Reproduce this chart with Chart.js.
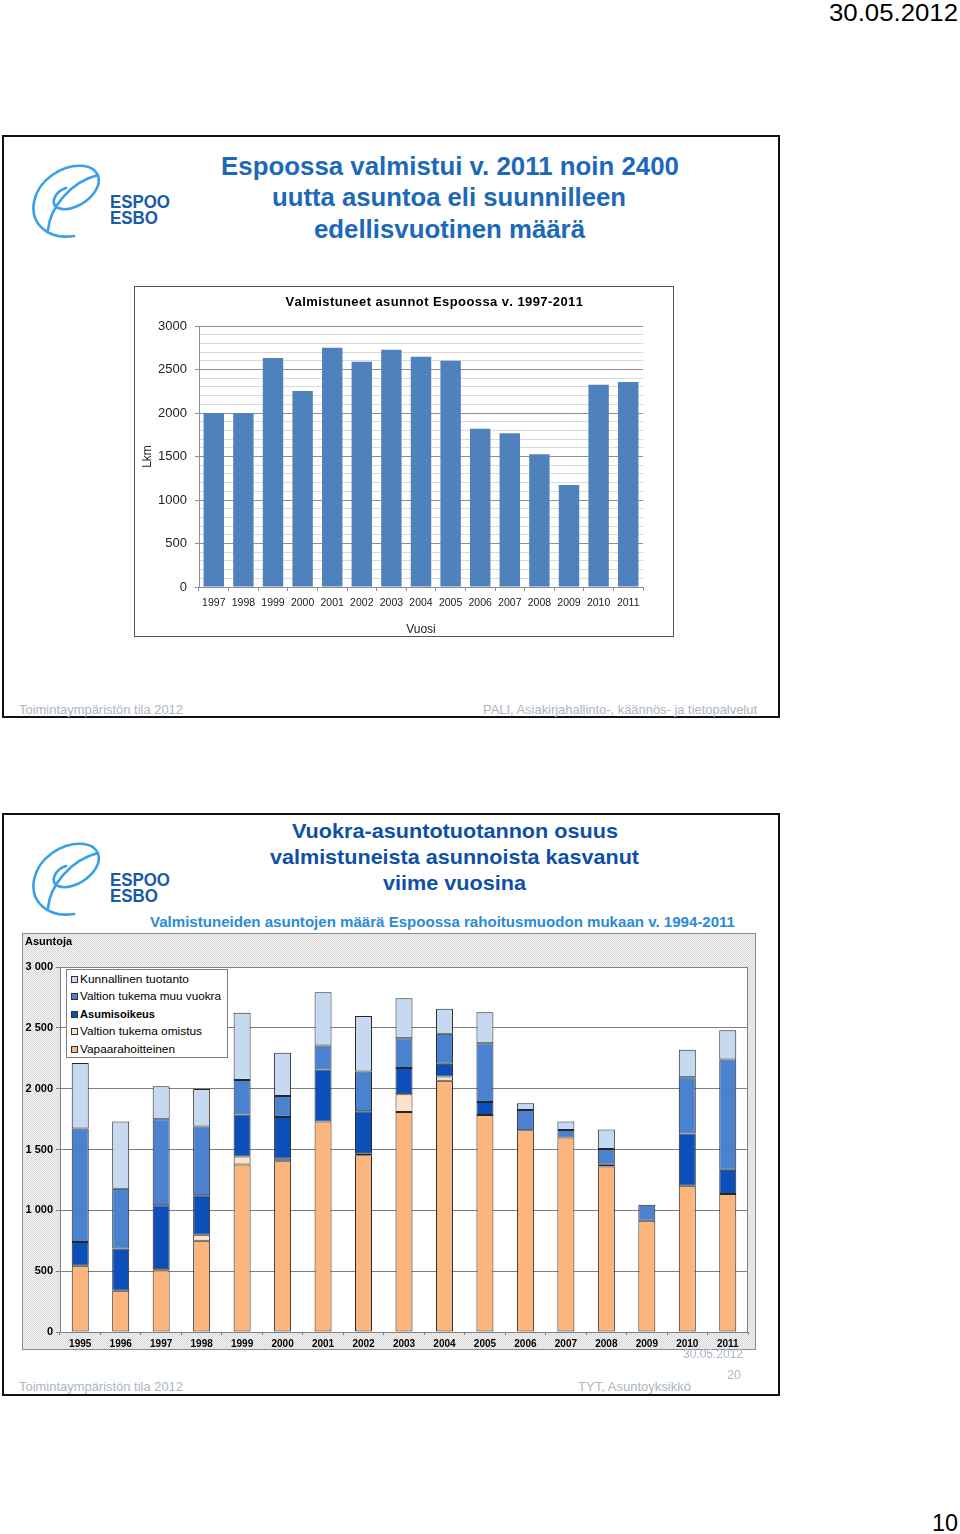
<!DOCTYPE html>
<html><head><meta charset="utf-8">
<script src="https://cdn.jsdelivr.net/npm/chart.js@4.4.1/dist/chart.umd.min.js"></script>
<style>
html,body{margin:0;padding:0;background:#fff;}
body{position:relative;width:960px;height:1534px;overflow:hidden;font-family:'Liberation Sans',Arial,sans-serif;}
.t{position:absolute;white-space:nowrap;line-height:1;transform-origin:0 0;}
.frame{position:absolute;box-sizing:border-box;border:2px solid #111;background:#fff;}
.box{position:absolute;box-sizing:border-box;}
.logo{position:absolute;}
</style></head><body>

<div class="frame" style="left:2px;top:135px;width:778px;height:583px;"></div>
<div class="frame" style="left:2px;top:813px;width:778px;height:583px;"></div>

<svg class="logo" style="left:28px;top:162px" width="74" height="78" viewBox="0 0 74 78">
  <g fill="none" stroke="#3a9fe6" stroke-width="2.6" stroke-linecap="round">
    <path d="M46 74 C20 78 2 62 6 40 C10 18 34 2 56 4 C71 6 75 19 66 31 C57 43 40 50 30 46 C22 42 26 30 38 26"/>
    <path d="M20 68 C22 46 42 20 70 13"/>
  </g>
</svg>
<svg class="logo" style="left:28px;top:840px" width="74" height="78" viewBox="0 0 74 78">
  <g fill="none" stroke="#3a9fe6" stroke-width="2.6" stroke-linecap="round">
    <path d="M46 74 C20 78 2 62 6 40 C10 18 34 2 56 4 C71 6 75 19 66 31 C57 43 40 50 30 46 C22 42 26 30 38 26"/>
    <path d="M20 68 C22 46 42 20 70 13"/>
  </g>
</svg>

<div class="box" style="left:134px;top:286px;width:540px;height:351px;border:1px solid #555;background:#fff;"></div>
<div class="box" style="left:135px;top:287px;width:538px;height:349px;"><canvas id="c1"></canvas></div>

<div class="box" style="left:22px;top:933px;width:734px;height:417px;border:1px solid #8a8a8a;background:repeating-conic-gradient(#d9d9d9 0% 25%, #f3f3f3 0% 50%) 0 0/2px 2px;"></div>
<div class="box" style="left:22px;top:933px;width:734px;height:417px;"><canvas id="c2"></canvas></div>

<div id="legend" class="box" style="left:66px;top:969px;width:162px;height:89px;border:1px solid #808080;background:#fff;"></div>

<script>
// ---------- DATA ----------
const title1 = 'Valmistuneet asunnot Espoossa v. 1997-2011';
const years1 = ['1997','1998','1999','2000','2001','2002','2003','2004','2005','2006','2007','2008','2009','2010','2011'];
const completed1 = [2000, 1997, 2632, 2253, 2751, 2590, 2728, 2647, 2601, 1820, 1766, 1525, 1172, 2325, 2356];
const yMajorTicks1 = [0, 500, 1000, 1500, 2000, 2500, 3000];

const years2 = ['1995','1996','1997','1998','1999','2000','2001','2002','2003','2004','2005','2006','2007','2008','2009','2010','2011'];
const vapaarahoitteinen = [544, 339, 508, 751, 1377, 1404, 1730, 1453, 1809, 2066, 1784, 1658, 1598, 1361, 915, 1202, 1134];
const valtionOmistus    = [0, 0, 8, 49, 65, 19, 0, 17, 145, 35, 0, 0, 0, 0, 0, 0, 0];
const asumisoikeus      = [196, 347, 525, 323, 345, 345, 428, 344, 215, 104, 107, 0, 0, 13, 0, 429, 199];
const valtionMuuVuokra  = [932, 492, 708, 566, 284, 172, 197, 328, 246, 246, 483, 167, 63, 131, 131, 462, 907];
const kunnallinen       = [538, 552, 270, 308, 552, 355, 437, 456, 328, 205, 254, 55, 69, 159, 0, 227, 241];
const seriesNames2 = ['Vapaarahoitteinen','Valtion tukema omistus','Asumisoikeus','Valtion tukema muu vuokra','Kunnallinen tuotanto'];
const seriesColors2 = ['#fbb57d','#fde2c9','#0d4fb8','#4a82d0','#c6d9f0'];
const yTicks2 = [0, 500, 1000, 1500, 2000, 2500, 3000];

// ---------- TEXT ----------
function txt(s, x, base, size, weight, color, w) {
  const e = document.createElement('span');
  e.className = 't';
  e.textContent = s;
  e.style.fontSize = size + 'px';
  e.style.fontWeight = weight;
  e.style.color = color;
  e.style.left = x + 'px';
  e.style.top = (base - 0.8465 * size) + 'px';
  document.body.appendChild(e);
  if (w) {
    const nat = e.getBoundingClientRect().width;
    if (nat > 0) e.style.transform = 'scaleX(' + (w / nat) + ')';
  }
  return e;
}
const foot = '#a9b6c3';
txt('30.05.2012', 829, 21, 24, 'normal', '#000', 129);
txt('10', 932, 1531, 24, 'normal', '#000', 26);

txt('Espoossa valmistui v. 2011 noin 2400', 221, 175, 26, 'bold', '#1c69b8', 458);
txt('uutta asuntoa eli suunnilleen', 272, 206.5, 26, 'bold', '#1c69b8', 354);
txt('edellisvuotinen määrä', 314, 238, 26, 'bold', '#1c69b8', 271);
txt('ESPOO', 110, 208, 18, 'bold', '#1a5aa6', 60);
txt('ESBO', 110, 224, 18, 'bold', '#1a5aa6', 48);
txt('Toimintaympäristön tila 2012', 19, 714, 13, 'normal', foot, 164);
txt('PALI, Asiakirjahallinto-, käännös- ja tietopalvelut', 483, 714, 13, 'normal', foot, 274);

txt('Vuokra-asuntotuotannon osuus', 292, 838, 21, 'bold', '#0f4fa6', 326);
txt('valmistuneista asunnoista kasvanut', 270, 864, 21, 'bold', '#0f4fa6', 369);
txt('viime vuosina', 383, 890, 21, 'bold', '#0f4fa6', 143);
txt('ESPOO', 110, 886, 18, 'bold', '#1a5aa6', 60);
txt('ESBO', 110, 902, 18, 'bold', '#1a5aa6', 48);
txt('Valmistuneiden asuntojen määrä Espoossa rahoitusmuodon mukaan v. 1994-2011', 150, 927, 15, 'bold', '#2b8bd6', 585);
txt('Toimintaympäristön tila 2012', 19, 1391, 13, 'normal', foot, 164);
txt('TYT, Asuntoyksikkö', 578, 1391, 13, 'normal', foot, 113);
txt('30.05.2012', 683, 1358, 12, 'normal', foot, 60);
txt('20', 727, 1379, 12, 'normal', foot, 14);

// legend
(function(){
  const widths = [95, 122, 75, 141, 109];
  for (let k = 0; k < seriesNames2.length; k++) {
    const i = seriesNames2.length - 1 - k;
    const cy = 979 + k * 17.5;
    const m = document.createElement('div');
    m.style.cssText = 'position:absolute;box-sizing:border-box;width:7px;height:7px;border:1px solid #333;left:71px;top:' + (cy - 3.5) + 'px;background:' + seriesColors2[i];
    document.body.appendChild(m);
    txt(seriesNames2[i], 80, cy + 4, 11, seriesNames2[i] === 'Asumisoikeus' ? 'bold' : 'normal', '#000', widths[i]);
  }
})();

// ---------- CHARTS ----------
Chart.defaults.font.family = "'Liberation Sans', Arial, sans-serif";
Chart.defaults.color = '#222';

// chart title drawn in the chart canvas, centred over the plot, spaced to the original width
const spacedTitle = {
  id: 'spacedTitle',
  afterDraw(c, args, o) {
    const x = c.ctx;
    x.save();
    x.font = 'bold 13px ' + Chart.defaults.font.family;
    x.fillStyle = '#000';
    x.textBaseline = 'middle';
    const nat = x.measureText(o.text).width;
    const n = o.text.length;
    const ls = (o.width - nat) / (n - 1);
    let px = o.cx - o.width / 2;
    for (const ch of o.text) {
      x.fillText(ch, px, o.cy);
      px += x.measureText(ch).width + ls;
    }
    x.restore();
  }
};

new Chart(document.getElementById('c1'), {
  type: 'bar',
  data: { labels: years1, datasets: [{ data: completed1, backgroundColor: '#4f81bd', barPercentage: 0.69, categoryPercentage: 1 }] },
  options: {
    responsive: true, maintainAspectRatio: false, animation: false, devicePixelRatio: 1,
    layout: { padding: { left: 0, right: 30, top: 39, bottom: 0 } },
    plugins: {
      legend: { display: false }, tooltip: { enabled: false }, title: { display: false },
      spacedTitle: { text: title1, cx: 298, cy: 15.5, width: 295 }
    },
    scales: {
      y: {
        min: 0, max: 3000,
        afterFit: s => { s.width = 64; },
        ticks: { stepSize: 100, autoSkip: false, padding: 8, font: { size: 13 }, color: '#222',
          callback: v => yMajorTicks1.includes(v) ? String(v) : '' },
        grid: { color: c => (c.tick && c.tick.value % 500 === 0) ? '#8f8f8f' : '#d9d9d9',
          tickColor: c => (c.tick && c.tick.value % 500 === 0) ? '#8f8f8f' : 'rgba(0,0,0,0)', tickLength: 4 },
        border: { display: true, color: '#8f8f8f' },
        title: { display: true, text: 'Lkm', font: { size: 12 }, color: '#222', padding: { top: 5, bottom: 0 } }
      },
      x: {
        afterFit: s => { s.height = 49; },
        ticks: { autoSkip: false, maxRotation: 0, padding: 6, font: { size: 10.5 }, color: '#222' },
        grid: { drawOnChartArea: false, tickLength: 4, color: '#8f8f8f' },
        border: { display: true, color: '#8f8f8f' },
        title: { display: true, text: 'Vuosi', font: { size: 12 }, color: '#222', padding: { top: 0, bottom: -1 } }
      }
    }
  },
  plugins: [spacedTitle]
});

const plotFrame = {
  id: 'plotFrame',
  beforeDraw(c) {
    const a = c.chartArea, x = c.ctx;
    x.save(); x.fillStyle = '#fff'; x.fillRect(a.left, a.top, a.width, a.height); x.restore();
  },
  afterDraw(c) {
    const a = c.chartArea, x = c.ctx;
    x.save(); x.strokeStyle = '#808080'; x.lineWidth = 1;
    x.strokeRect(Math.round(a.left) + 0.5, Math.round(a.top) + 0.5, Math.round(a.width) - 1, Math.round(a.height));
    x.restore();
  }
};
const vals2 = [vapaarahoitteinen, valtionOmistus, asumisoikeus, valtionMuuVuokra, kunnallinen];
new Chart(document.getElementById('c2'), {
  type: 'bar',
  data: {
    labels: years2,
    datasets: vals2.map((d, i) => ({
      label: seriesNames2[i], data: d, backgroundColor: seriesColors2[i],
      borderColor: '#262626', borderWidth: 1, borderSkipped: false,
      barPercentage: 0.42, categoryPercentage: 1, stack: 's'
    }))
  },
  options: {
    responsive: true, maintainAspectRatio: false, animation: false, devicePixelRatio: 1,
    layout: { padding: { left: 3, right: 8, top: 0, bottom: 0 } },
    plugins: {
      legend: { display: false }, tooltip: { enabled: false },
      title: { display: true, text: 'Asuntoja', align: 'start', color: '#000',
        font: { size: 11, weight: 'bold' }, padding: { top: 2, bottom: 18.8 } }
    },
    scales: {
      y: {
        stacked: true, min: 0, max: 3000,
        afterFit: s => { s.width = 35; },
        afterBuildTicks: s => { s.ticks = yTicks2.map(v => ({ value: v })); },
        ticks: { padding: 3, font: { size: 11, weight: 'bold' }, color: '#000',
          callback: v => String(v).replace(/\B(?=(\d{3})+(?!\d))/g, ' ') },
        grid: { color: '#7f7f7f', tickLength: 4, tickColor: '#7f7f7f' },
        border: { display: true, color: '#808080' }
      },
      x: {
        stacked: true,
        afterFit: s => { s.height = 18; },
        ticks: { autoSkip: false, maxRotation: 0, padding: 3, font: { size: 10, weight: 'bold' }, color: '#000' },
        grid: { drawOnChartArea: false, tickLength: 3, color: '#808080' },
        border: { display: true, color: '#808080' }
      }
    }
  },
  plugins: [plotFrame]
});
</script>
</body></html>
